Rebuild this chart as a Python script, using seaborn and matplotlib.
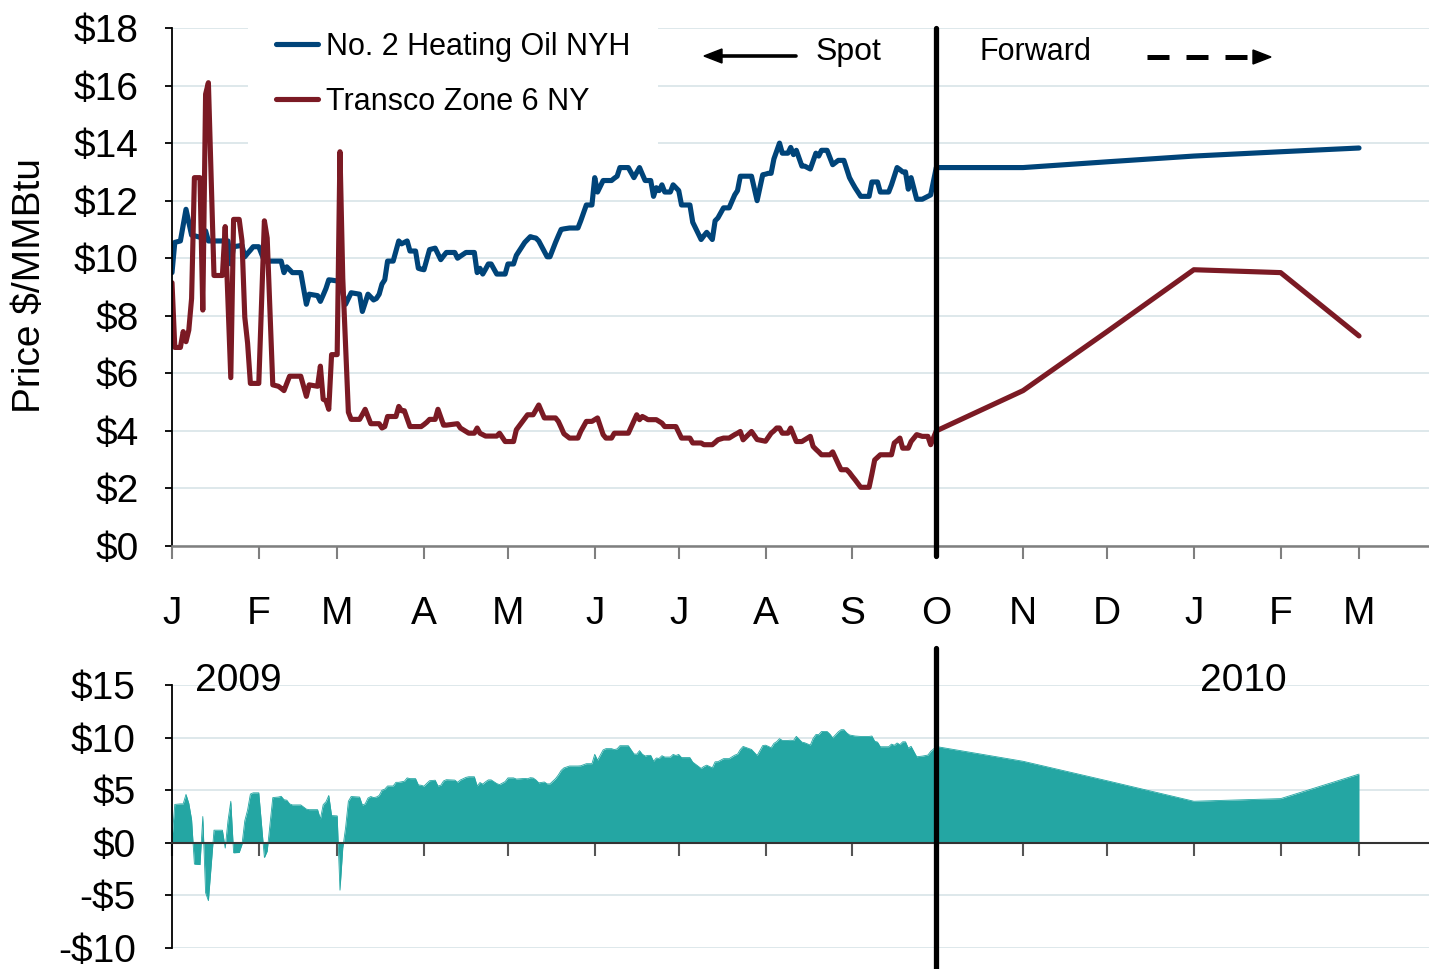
import matplotlib
matplotlib.use('Agg')  # no display available
import matplotlib.pyplot as plt
from matplotlib.lines import Line2D
from matplotlib.patches import Polygon
import numpy as np
import pandas as pd
import seaborn as sns

# Spot prices: day offset from 2009-01-01
START = pd.Timestamp('2009-01-01')
spot_day = [
    0, 1, 3, 4, 5, 6, 7, 8, 10, 11,
    12, 13, 15, 18, 19, 20, 21, 22, 24, 25,
    26, 27, 28, 29, 31, 33, 34, 36, 38, 39,
    40, 41, 42, 43, 46, 48, 49, 52, 53, 54,
    55, 56, 57, 59, 60, 61, 62, 63, 64, 67,
    68, 69, 70, 71, 72, 73, 74, 75, 76, 77,
    79, 80, 81, 82, 83, 84, 85, 87, 88, 89,
    90, 91, 92, 94, 95, 96, 97, 98, 101, 102,
    103, 105, 106, 108, 109, 110, 111, 112, 113, 114,
    116, 117, 119, 120, 122, 123, 125, 126, 127, 128,
    129, 130, 131, 133, 134, 135, 137, 138, 139, 140,
    142, 145, 146, 148, 150, 151, 152, 154, 155, 157,
    158, 159, 160, 163, 165, 166, 167, 168, 169, 170,
    171, 172, 173, 174, 175, 176, 178, 179, 180, 181,
    182, 185, 186, 189, 190, 191, 193, 194, 195, 197,
    199, 201, 202, 203, 204, 207, 209, 211, 212, 213,
    214, 215, 216, 217, 218, 220, 221, 222, 223, 225,
    226, 228, 229, 230, 231, 232, 234, 235, 236, 238,
    239, 240, 241, 242, 243, 244, 246, 249, 250, 251,
    252, 253, 256, 257, 258, 259, 260, 261, 262, 263,
    264, 266, 268, 270, 271,
]
heating_oil_spot = [
    9.5, 10.55, 10.6, 11.15, 11.7, 11.25, 10.8, 10.78, 10.73, 10.7,
    10.95, 10.6, 10.6, 10.6, 10.6, 10.6, 9.8, 10.4, 10.43, 10.45,
    10.05, 10.17, 10.28, 10.4, 10.4, 9.9, 9.9, 9.9, 9.9, 9.9,
    9.5, 9.7, 9.6, 9.5, 9.5, 8.4, 8.75, 8.7, 8.5, 8.72,
    8.95, 9.25, 9.24, 9.21, 9.2, 8.8, 8.4, 8.6, 8.8, 8.75,
    8.15, 8.45, 8.75, 8.65, 8.55, 8.6, 8.75, 9.1, 9.25, 9.9,
    9.9, 10.25, 10.6, 10.5, 10.55, 10.6, 10.25, 10.25, 9.65, 9.62,
    9.6, 9.95, 10.3, 10.35, 10.15, 9.95, 10.08, 10.2, 10.2, 10.0,
    10.07, 10.2, 10.2, 10.2, 9.5, 9.65, 9.45, 9.62, 9.8, 9.8,
    9.45, 9.45, 9.45, 9.8, 9.8, 10.1, 10.4, 10.55, 10.65, 10.75,
    10.72, 10.7, 10.6, 10.23, 10.05, 10.05, 10.55, 10.78, 11.0, 11.02,
    11.05, 11.05, 11.3, 11.85, 11.85, 12.8, 12.3, 12.7, 12.7, 12.7,
    12.78, 12.85, 13.15, 13.15, 12.8, 12.98, 13.15, 12.92, 12.7, 12.7,
    12.7, 12.15, 12.45, 12.35, 12.55, 12.3, 12.3, 12.55, 12.45, 12.35,
    11.85, 11.85, 11.25, 10.65, 10.78, 10.9, 10.65, 11.3, 11.4, 11.75,
    11.75, 12.2, 12.35, 12.85, 12.85, 12.85, 12.0, 12.9, 12.92, 12.95,
    12.95, 13.45, 13.72, 14.0, 13.65, 13.65, 13.85, 13.6, 13.75, 13.2,
    13.2, 13.1, 13.38, 13.65, 13.55, 13.75, 13.75, 13.5, 13.25, 13.4,
    13.4, 13.4, 13.1, 12.8, 12.62, 12.45, 12.15, 12.15, 12.65, 12.65,
    12.65, 12.3, 12.3, 12.55, 12.85, 13.15, 13.08, 13.0, 13.0, 12.4,
    12.8, 12.05, 12.05, 12.15, 12.2,
]
transco_spot = [
    9.15, 6.9, 6.9, 7.45, 7.1, 7.5, 8.6, 12.8, 12.8, 8.2,
    15.7, 16.1, 9.4, 9.4, 11.1, 8.5, 5.85, 11.35, 11.35, 10.6,
    7.95, 7.05, 5.65, 5.65, 5.65, 11.3, 10.7, 5.6, 5.55, 5.48,
    5.4, 5.65, 5.9, 5.9, 5.9, 5.2, 5.6, 5.55, 6.25, 5.1,
    5.05, 4.75, 6.65, 6.65, 13.7, 9.3, 6.97, 4.65, 4.4, 4.4,
    4.57, 4.75, 4.5, 4.25, 4.25, 4.25, 4.25, 4.1, 4.15, 4.5,
    4.5, 4.5, 4.85, 4.7, 4.7, 4.43, 4.15, 4.15, 4.15, 4.15,
    4.22, 4.3, 4.4, 4.4, 4.75, 4.48, 4.2, 4.2, 4.24, 4.25,
    4.1, 3.98, 3.92, 3.92, 4.1, 3.92, 3.87, 3.82, 3.82, 3.82,
    3.82, 3.92, 3.63, 3.63, 3.63, 4.04, 4.3, 4.43, 4.56, 4.56,
    4.56, 4.73, 4.9, 4.45, 4.45, 4.45, 4.45, 4.33, 4.12, 3.9,
    3.75, 3.75, 3.98, 4.33, 4.33, 4.39, 4.45, 3.87, 3.75, 3.75,
    3.92, 3.92, 3.92, 3.92, 4.35, 4.56, 4.39, 4.5, 4.45, 4.39,
    4.39, 4.39, 4.39, 4.33, 4.27, 4.15, 4.15, 4.15, 4.15, 3.95,
    3.75, 3.75, 3.58, 3.58, 3.52, 3.52, 3.52, 3.6, 3.69, 3.75,
    3.75, 3.87, 3.92, 3.98, 3.69, 3.98, 3.7, 3.66, 3.64, 3.78,
    3.92, 4.0, 4.1, 4.1, 3.92, 3.92, 4.1, 3.87, 3.63, 3.63,
    3.69, 3.81, 3.46, 3.36, 3.27, 3.17, 3.17, 3.17, 3.27, 2.85,
    2.65, 2.65, 2.65, 2.55, 2.42, 2.3, 2.04, 2.04, 2.5, 2.99,
    3.08, 3.17, 3.17, 3.17, 3.58, 3.66, 3.75, 3.4, 3.4, 3.4,
    3.63, 3.87, 3.81, 3.81, 3.52,
]

# Forward curve (monthly)
fwd_dates = ['2009-10-01', '2009-11-01', '2009-12-01', '2010-01-01', '2010-02-01', '2010-03-01']
heating_oil_fwd = [13.15, 13.15, 13.35, 13.55, 13.7, 13.83]
transco_fwd = [4.0, 5.4, 7.45, 9.6, 9.5, 7.3]

month_labels = ['J', 'F', 'M', 'A', 'M', 'J', 'J', 'A', 'S', 'O', 'N', 'D', 'J', 'F', 'M']
top_ticks = list(range(0, 19, 2))
bottom_ticks = [-10, -5, 0, 5, 10, 15]

assert len(spot_day) == len(heating_oil_spot) == len(transco_spot), \
    (len(spot_day), len(heating_oil_spot), len(transco_spot))

BLUE = '#004479'
RED = '#7B1A24'
TEAL = '#24A6A3'
GRID = '#D8E4E8'
AXIS_GRAY = '#7F7F7F'

sns.set_style('white')
plt.rcParams['font.family'] = ['Liberation Sans', 'DejaVu Sans']
plt.rcParams['text.color'] = 'black'

dates = list(START + pd.to_timedelta(spot_day, unit='D')) + list(pd.to_datetime(fwd_dates))
df = pd.DataFrame({
    'date': dates,
    'heating_oil': heating_oil_spot + heating_oil_fwd,
    'transco': transco_spot + transco_fwd,
})
df['spread'] = df['heating_oil'] - df['transco']

W, H = 1429, 969
fig = plt.figure(figsize=(W / 100, H / 100), dpi=100)
ax = fig.add_axes([172 / W, 1 - 546 / H, (W - 172) / W, (546 - 28) / H])
ax2 = fig.add_axes([172 / W, 1 - 948 / H, (W - 172) / W, (948 - 685) / H])

xmin, xmax = START, pd.Timestamp('2010-03-26')
month_ticks = pd.date_range('2009-01-01', '2010-03-01', freq='MS')
split_date = pd.Timestamp(fwd_dates[0])

# --- top panel: prices ---
sns.lineplot(data=df, x='date', y='heating_oil', ax=ax, color=BLUE, lw=3.7,
             label='No. 2 Heating Oil NYH')
sns.lineplot(data=df, x='date', y='transco', ax=ax, color=RED, lw=3.7,
             label='Transco Zone 6 NY')
ax.set_xlim(xmin, xmax)
ax.set_ylim(0, 18)
ax.set_yticks(top_ticks)
ax.set_yticklabels([f'${v}' for v in top_ticks])
ax.set_xticks(month_ticks)
ax.set_xticklabels(month_labels)
ax.set_xlabel('')
ax.set_ylabel('')
ax.grid(axis='y', color=GRID, lw=1.2)
ax.set_axisbelow(True)
for s in ['top', 'right']:
    ax.spines[s].set_visible(False)
ax.spines['left'].set_color('black')
ax.spines['left'].set_linewidth(1.3)
ax.spines['bottom'].set_color(AXIS_GRAY)
ax.spines['bottom'].set_linewidth(1.8)
ax.tick_params(axis='y', left=True, direction='out', length=5, width=1.3,
               color='black', labelcolor='black', labelsize=28, pad=19)
ax.tick_params(axis='x', bottom=True, direction='out', length=9, width=1.5,
               color=AXIS_GRAY, labelcolor='black', labelsize=28, pad=27)
ax.plot([split_date, split_date], [-0.35, 18], color='black', lw=3.8,
        clip_on=False, zorder=6)

leg = ax.legend(loc='upper left', bbox_to_anchor=(248 / W, 1 - 4 / H),
                bbox_transform=fig.transFigure, fontsize=22, frameon=True,
                facecolor='white', edgecolor='none', framealpha=1, fancybox=False,
                handlelength=1.4, handletextpad=0.25, labelspacing=0.82,
                borderpad=0.9, borderaxespad=0)
for t in leg.get_texts():
    t.set_color('black')

fig.text(30 / W, 1 - 285 / H, 'Price $/MMBtu', rotation=90, ha='center',
         va='center', fontsize=28)

# Spot / Forward annotations
fig.text(816 / W, 1 - 52 / H, 'Spot', fontsize=23, ha='left', va='center')
fig.text(979 / W, 1 - 52 / H, 'Forward', fontsize=22, ha='left', va='center')
fig.add_artist(Line2D([718 / W, 796 / W], [1 - 56 / H] * 2, color='black', lw=2.6,
                      transform=fig.transFigure))
fig.add_artist(Polygon([[704 / W, 1 - 56 / H], [722 / W, 1 - 49 / H], [722 / W, 1 - 63 / H]],
                       closed=True, color='black', transform=fig.transFigure))
fig.add_artist(Line2D([1147 / W, 1247 / W], [1 - 57 / H] * 2, color='black', lw=3.6,
                      ls=(0, (4.4, 3.4)), solid_capstyle='butt', dash_capstyle='butt',
                      transform=fig.transFigure))
fig.add_artist(Polygon([[1271 / W, 1 - 57 / H], [1253 / W, 1 - 50 / H], [1253 / W, 1 - 64 / H]],
                       closed=True, color='black', transform=fig.transFigure))

# --- bottom panel: spread ---
ax2.fill_between(df['date'], df['spread'], 0, color=TEAL, lw=0, zorder=2)
sns.lineplot(data=df, x='date', y='spread', ax=ax2, color=TEAL, lw=0.6, zorder=2)
ax2.set_xlim(xmin, xmax)
ax2.set_ylim(-10, 15)
ax2.set_yticks(bottom_ticks)
ax2.set_yticklabels([f'-${-v}' if v < 0 else f'${v}' for v in bottom_ticks])
ax2.set_xticks(month_ticks)
ax2.set_xticklabels([''] * len(month_ticks))
ax2.set_xlabel('')
ax2.set_ylabel('')
ax2.grid(axis='y', color=GRID, lw=1.2)
ax2.set_axisbelow(True)
for s in ['top', 'right']:
    ax2.spines[s].set_visible(False)
ax2.spines['left'].set_color('black')
ax2.spines['left'].set_linewidth(1.3)
ax2.spines['bottom'].set_position(('data', 0))
ax2.spines['bottom'].set_color('#333333')
ax2.spines['bottom'].set_linewidth(1.5)
ax2.spines['bottom'].set_zorder(3)
ax2.tick_params(axis='y', left=True, direction='out', length=5, width=1.3,
                color='black', labelcolor='black', labelsize=28, pad=21)
ax2.tick_params(axis='x', bottom=True, direction='out', length=9, width=1.5,
                color='#555555')
ax2.plot([split_date, split_date], [-12.5, 18.5], color='black', lw=3.8,
         clip_on=False, zorder=6)

fig.text(238 / W, 1 - 681 / H, '2009', fontsize=28, ha='center', va='center')
fig.text(1243 / W, 1 - 681 / H, '2010', fontsize=28, ha='center', va='center')

fig.savefig('out.png', dpi=100)
plt.close(fig)
